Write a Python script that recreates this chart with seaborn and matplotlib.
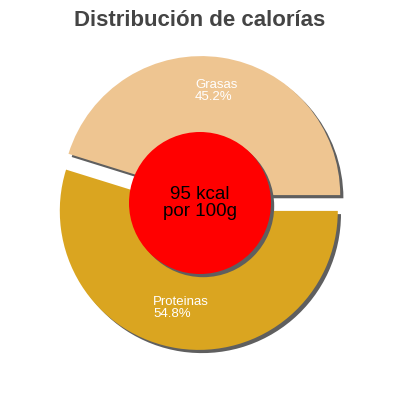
import matplotlib
matplotlib.use('Agg')
import matplotlib.pyplot as plt
import seaborn as sns
from matplotlib.patches import Circle, Shadow

sns.set_style('white')
plt.rcParams['font.family'] = ['Liberation Sans', 'DejaVu Sans']

# Data
labels = ['Grasas', 'Proteinas']
values = [45.2, 54.8]
colors = ['#EEC591', '#DAA520']
kcal = 95
title = 'Distribución de calorías'

fig = plt.figure(figsize=(4, 4), dpi=100)
ax = fig.add_axes([0, 0, 1, 1])

cx, cy, r = 200, 197, 139
# explode is in data units here (pixels)
wedges, _ = ax.pie(values, colors=colors, startangle=0, counterclock=True,
                   explode=[8, 8], center=(cx, cy), radius=r,
                   wedgeprops=dict(linewidth=0), frame=True)
ax.set_xlim(0, 400)
ax.set_ylim(0, 400)
ax.set_aspect('equal')
ax.axis('off')

for w in wedges:
    sh = Shadow(w, 2.3, -2.3, facecolor='#5f5f5f', edgecolor='none', alpha=1)
    sh.set_zorder(w.get_zorder() - 0.5)
    ax.add_patch(sh)

circ = Circle((cx, cy), 71, facecolor='#FF0000', edgecolor='none', zorder=5)
ax.add_patch(circ)
sh = Shadow(circ, 2.3, -2.3, facecolor='#5f5f5f', edgecolor='none', alpha=1)
sh.set_zorder(4.5)
ax.add_patch(sh)

ax.text(cx, cy, f'{kcal} kcal\npor 100g', ha='center', va='center',
        fontsize=13.5, color='black', linespacing=1.0, zorder=6)

ax.text(195, 400 - 79, f'{labels[0]}\n{values[0]}%', ha='left', va='top',
        fontsize=9.5, color='white', linespacing=0.95, zorder=6)
ax.text(153, 400 - 296, f'{labels[1]}\n{values[1]}%', ha='left', va='top',
        fontsize=9.5, color='white', linespacing=0.95, zorder=6)

fig.text(0.5, 1 - 20 / 400, title, ha='center', va='center',
         fontsize=16, fontweight='bold', color='#444444')

fig.savefig('out.png', dpi=100)
